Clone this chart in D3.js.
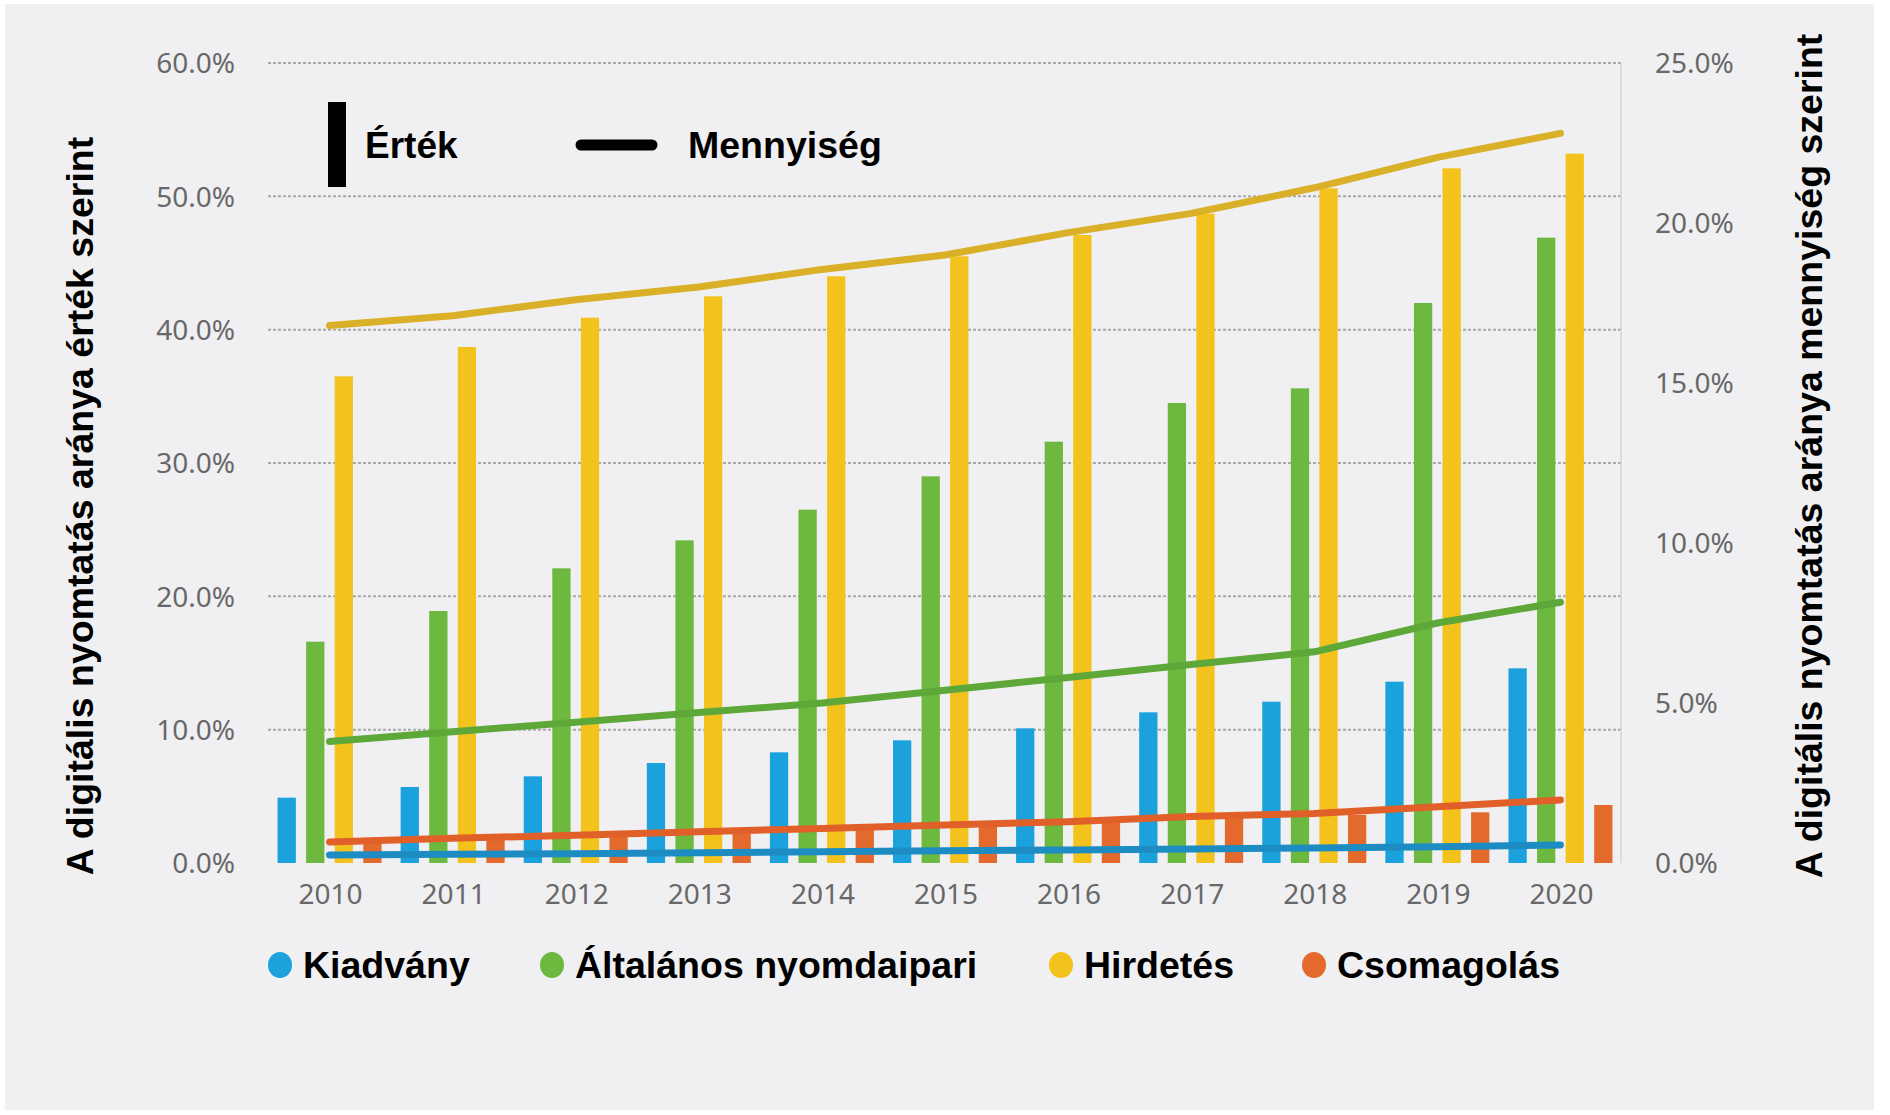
<!DOCTYPE html>
<html>
<head>
	<meta charset="utf-8">
	<script src="https://cdn.jsdelivr.net/npm/d3@7"></script>
	<title>Digitális nyomtatás aránya</title>
	<style type="text/css">
		body {
			margin: 0;
			background: #ffffff;
		}
		.tick-label {
			font-family: "Noto Sans", sans-serif;
			font-size: 28px;
			fill: #686868;
		}
		.bold-text {
			font-family: "Liberation Sans", Arial, sans-serif;
			font-weight: bold;
			fill: #000;
		}
	</style>
</head>
<body>
	<div id="chartContainer"></div>

	<script type="text/javascript">
		// adatok
		var years = [2010, 2011, 2012, 2013, 2014, 2015, 2016, 2017, 2018, 2019, 2020];
		var seriesNames = ["Kiadvány", "Általános nyomdaipari", "Hirdetés", "Csomagolás"];

		// érték szerint (oszlopok, bal tengely, %)
		var kiadvanyErtek = [4.9, 5.7, 6.5, 7.5, 8.3, 9.2, 10.1, 11.3, 12.1, 13.6, 14.6];
		var altalanosErtek = [16.6, 18.9, 22.1, 24.2, 26.5, 29.0, 31.6, 34.5, 35.6, 42.0, 46.9];
		var hirdetesErtek = [36.5, 38.7, 40.9, 42.5, 44.0, 45.5, 47.1, 48.7, 50.6, 52.1, 53.2];
		var csomagolasErtek = [1.6, 1.85, 2.0, 2.2, 2.5, 2.85, 3.1, 3.5, 3.6, 3.8, 4.35];

		// mennyiség szerint (vonalak, jobb tengely, %)
		var kiadvanyMennyiseg = [0.25, 0.27, 0.29, 0.32, 0.35, 0.38, 0.41, 0.44, 0.47, 0.51, 0.56];
		var altalanosMennyiseg = [3.8, 4.1, 4.4, 4.7, 5.0, 5.4, 5.8, 6.2, 6.6, 7.5, 8.15];
		var hirdetesMennyiseg = [16.8, 17.1, 17.6, 18.0, 18.55, 19.0, 19.7, 20.3, 21.1, 22.05, 22.8];
		var csomagolasMennyiseg = [0.66, 0.77, 0.87, 0.98, 1.08, 1.19, 1.29, 1.45, 1.55, 1.76, 1.97];

		var leftTicks = [0, 10, 20, 30, 40, 50, 60];
		var rightTicks = [0, 5, 10, 15, 20, 25];

		var barColors = ["#1ba1dc", "#6db83f", "#f4c21c", "#e4692c"];
		var lineColors = ["#1d8cc2", "#5ea83a", "#d9b027", "#e1602a"];

		var ertek = [kiadvanyErtek, altalanosErtek, hirdetesErtek, csomagolasErtek];
		var mennyiseg = [kiadvanyMennyiseg, altalanosMennyiseg, hirdetesMennyiseg, csomagolasMennyiseg];

		var W = 1890, H = 1115;
		var svg = d3.select("#chartContainer").append("svg")
			.attr("width", W)
			.attr("height", H);

		// háttér
		svg.append("rect")
			.attr("x", 5).attr("y", 4)
			.attr("width", 1869).attr("height", 1106)
			.attr("fill", "#f0f0f2");

		var x = d3.scaleBand().domain(years).range([268, 1622]).padding(0);
		var inner = d3.scaleBand().domain(seriesNames).range([-52, 52]).paddingInner(0.36);
		var yLeft = d3.scaleLinear().domain([0, 60]).range([863, 63]);
		var yRight = d3.scaleLinear().domain([0, 25]).range([863, 63]);

		// rácsvonalak
		svg.append("g").selectAll("line")
			.data(leftTicks.filter(function (t) { return t > 0; }))
			.enter().append("line")
			.attr("x1", 268).attr("x2", 1621)
			.attr("y1", function (d) { return yLeft(d); })
			.attr("y2", function (d) { return yLeft(d); })
			.attr("stroke", "#a9a9a9")
			.attr("stroke-width", 2)
			.attr("stroke-dasharray", "3,2");

		svg.append("line")
			.attr("x1", 1621).attr("x2", 1621)
			.attr("y1", 63).attr("y2", 863)
			.attr("stroke", "#d6d6d8")
			.attr("stroke-width", 1.5);

		// bal tengely
		var leftAxis = d3.axisLeft(yLeft).tickValues(leftTicks)
			.tickFormat(function (d) { return d3.format(".1f")(d) + "%"; })
			.tickSize(0).tickPadding(0);
		var gl = svg.append("g").attr("transform", "translate(235,0)").call(leftAxis);
		gl.select(".domain").remove();
		gl.selectAll("text").attr("class", "tick-label").attr("dy", "0.35em");

		// jobb tengely
		var rightAxis = d3.axisRight(yRight).tickValues(rightTicks)
			.tickFormat(function (d) { return d3.format(".1f")(d) + "%"; })
			.tickSize(0).tickPadding(0);
		var gr = svg.append("g").attr("transform", "translate(1655,0)").call(rightAxis);
		gr.select(".domain").remove();
		gr.selectAll("text").attr("class", "tick-label").attr("dy", "0.35em");

		// x tengely
		var bottomAxis = d3.axisBottom(x).tickSize(0).tickPadding(0);
		var gx = svg.append("g").attr("transform", "translate(1,894)").call(bottomAxis);
		gx.select(".domain").remove();
		gx.selectAll("text").attr("class", "tick-label").attr("dy", "0.35em");

		// oszlopok
		seriesNames.forEach(function (name, i) {
			svg.append("g").selectAll("rect")
				.data(years)
				.enter().append("rect")
				.attr("x", function (d) { return x(d) + x.bandwidth() / 2 + inner(name); })
				.attr("y", function (d, j) { return yLeft(ertek[i][j]); })
				.attr("width", inner.bandwidth())
				.attr("height", function (d, j) { return yLeft(0) - yLeft(ertek[i][j]); })
				.attr("fill", barColors[i]);
		});

		// vonalak
		var drawOrder = [2, 1, 3, 0];
		drawOrder.forEach(function (i) {
			var line = d3.line()
				.x(function (d) { return x(d) + x.bandwidth() / 2; })
				.y(function (d, j) { return yRight(mennyiseg[i][j]); });
			svg.append("path")
				.datum(years)
				.attr("d", line)
				.attr("fill", "none")
				.attr("stroke", lineColors[i])
				.attr("stroke-width", 7)
				.attr("stroke-linecap", "round")
				.attr("stroke-linejoin", "round");
		});

		// tengelycímek
		svg.append("text")
			.attr("class", "bold-text")
			.attr("transform", "translate(80,506) rotate(-90)")
			.attr("text-anchor", "middle")
			.attr("dy", "0.35em")
			.style("font-size", "37.5px")
			.text("A digitális nyomtatás aránya érték szerint");

		svg.append("text")
			.attr("class", "bold-text")
			.attr("transform", "translate(1809,456) rotate(-90)")
			.attr("text-anchor", "middle")
			.attr("dy", "0.35em")
			.style("font-size", "37.5px")
			.text("A digitális nyomtatás aránya mennyiség szerint");

		// felső jelmagyarázat
		svg.append("rect")
			.attr("x", 328).attr("y", 102)
			.attr("width", 18).attr("height", 85)
			.attr("fill", "#000");
		svg.append("text")
			.attr("class", "bold-text")
			.attr("x", 365).attr("y", 158)
			.style("font-size", "37px")
			.text("Érték");
		svg.append("line")
			.attr("x1", 581).attr("x2", 652)
			.attr("y1", 145).attr("y2", 145)
			.attr("stroke", "#000")
			.attr("stroke-width", 11)
			.attr("stroke-linecap", "round");
		svg.append("text")
			.attr("class", "bold-text")
			.attr("x", 688).attr("y", 158)
			.style("font-size", "37.5px")
			.text("Mennyiség");

		// alsó jelmagyarázat
		var legendX = [280, 552, 1061, 1314];
		var legend = svg.append("g");
		seriesNames.forEach(function (name, i) {
			legend.append("ellipse")
				.attr("cx", legendX[i]).attr("cy", 965)
				.attr("rx", 12).attr("ry", 13)
				.attr("fill", barColors[i]);
			legend.append("text")
				.attr("class", "bold-text")
				.attr("x", legendX[i] + 23).attr("y", 965)
				.attr("dy", "0.35em")
				.style("font-size", "37.5px")
				.text(name);
		});
	</script>
</body>
</html>
